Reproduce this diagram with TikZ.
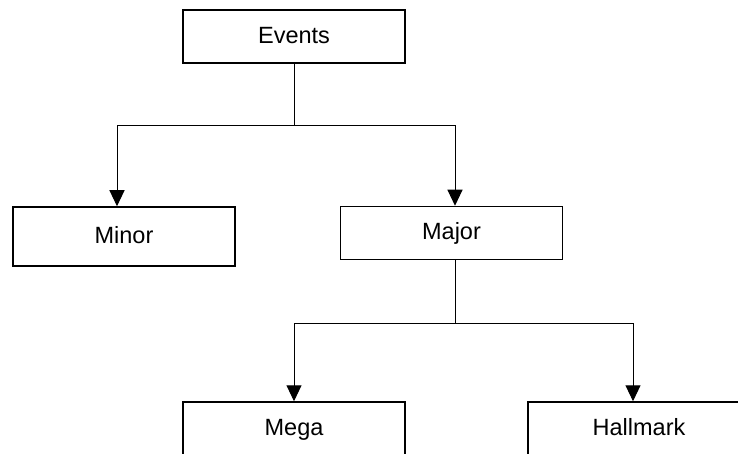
\documentclass[tikz,border=0pt]{standalone}
\usepackage{fontspec}
\setmainfont{Liberation Sans}
\usepackage{tikz}
\usetikzlibrary{arrows.meta, positioning, calc}

\begin{document}
\begin{tikzpicture}[
    x=1pt, y=1pt,
    box/.style={draw, line width=1.5pt, fill=white, font=\fontsize{23.5}{27}\selectfont,
                inner sep=3pt, text height=17pt, text depth=3.2pt,
                minimum width=222pt, minimum height=53pt},
    link/.style={line width=1pt},
    arr/.style={line width=1pt, -{Triangle[length=16pt, width=15pt]}},
  ]
    \path[use as bounding box, clip] (0,0) rectangle (738,-454);

    % level 0
    \node[box] (events) at (294, -36.5) {Events};

    % level 1
    \node[box, minimum height=59pt] (minor) at (124, -236.5) {Minor};
    \node[box] (major) at (451.5, -233) {Major};

    % level 2
    \node[box] (mega)     at (294, -428.5) {Mega};
    \node[box] (hallmark) at (639, -428.5) {Hallmark};

    % split points
    \coordinate (split1) at (294, -126);
    \coordinate (split2) at (455, -323);

    % edges
    \draw[link] (events) -- (split1);
    \draw[arr] (split1) -| ([xshift=-7pt]minor.north);
    \draw[arr] (split1) -| ([xshift=3.5pt]major.north);
    \draw[link] ([xshift=3.5pt]major.south) -- (split2);
    \draw[arr] (split2) -| (mega.north);
    \draw[arr] (split2) -| ([xshift=-6pt]hallmark.north);
  \end{tikzpicture}
\end{document}
